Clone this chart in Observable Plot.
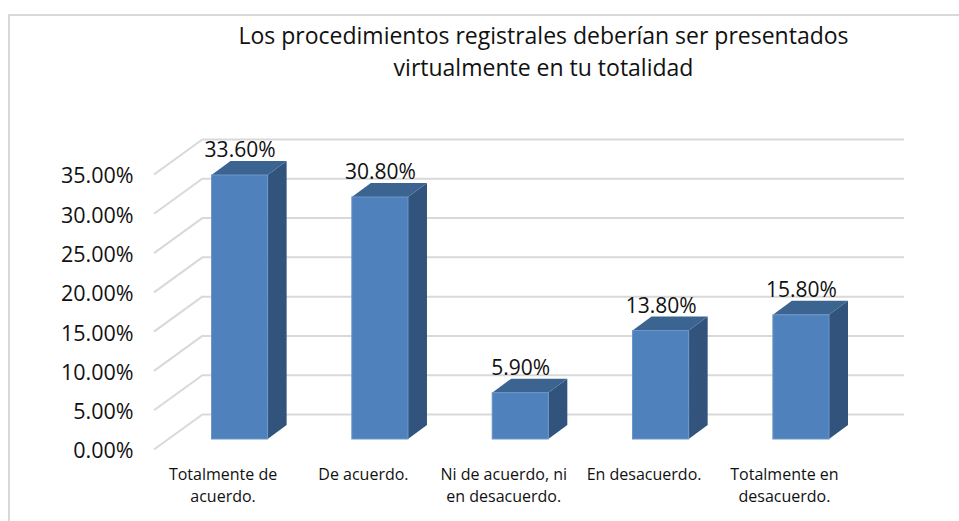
<!DOCTYPE html>
<html><head><meta charset="utf-8">
<script src="https://cdn.jsdelivr.net/npm/d3@7"></script>
<script src="https://cdn.jsdelivr.net/npm/@observablehq/plot@0.6"></script>
<style>
html,body{margin:0;padding:0;background:#fff;width:959px;height:521px;overflow:hidden;font-family:"Open Sans",sans-serif}
#frame{position:absolute;left:8px;top:14px;width:960px;height:520px;border:2px solid #D9D9D9;box-sizing:border-box;pointer-events:none}
#title{height:100px;box-sizing:border-box;padding-top:19px;padding-left:128px;width:959px;text-align:center;font-size:23px;line-height:32px;color:#111;white-space:nowrap}
svg{display:block;background:none}
</style></head><body>
<div id="frame"></div>
<div id="title">Los procedimientos registrales deberían ser presentados<br>virtualmente en tu totalidad</div>
<div id="chart"></div>
<script>
const categories = ["Totalmente de\nacuerdo.","De acuerdo.","Ni de acuerdo, ni\nen desacuerdo.","En desacuerdo.","Totalmente en\ndesacuerdo."];
const values = [33.6,30.8,5.9,13.8,15.8];
const valueLabels = ["33.60%","30.80%","5.90%","13.80%","15.80%"];
const yTicks = [0,5,10,15,20,25,30,35];
const data = categories.map((c,i)=>({c,v:values[i],l:valueLabels[i]}));

const sideDX = 19, sideDY = -14;
function polys(g, pts, fill){
  g.append("polygon").attr("points",pts.map(p=>p.join(",")).join(" ")).attr("fill",fill);
}
function bar3d(index, scales, vals){
  const g = d3.create("svg:g");
  const bw = scales.x.bandwidth();
  for (const i of index){
    const x0 = vals.x[i], x1 = x0+bw, t = vals.y2[i], b = vals.y1[i];
    polys(g,[[x1,t],[x1+sideDX,t+sideDY],[x1+sideDX,b+sideDY],[x1,b]],"#31537C");
    polys(g,[[x0,t],[x0+sideDX,t+sideDY],[x1+sideDX,t+sideDY],[x1,t]],"#3C6490");
  }
  return g.node();
}
function floorDiagonals(index, scales, vals, dims){
  const g = d3.create("svg:g").attr("stroke","#D9D9D9").attr("stroke-width",2).attr("fill","none");
  for (const i of index){
    const y = vals.y[i];
    g.append("line").attr("x1",dims.marginLeft-57.5).attr("y1",y+10.5).attr("x2",dims.marginLeft-8.5).attr("y2",y-25);
  }
  return g.node();
}

const chart = Plot.plot({
  width:959, height:421,
  marginLeft:211.5, marginRight:130, marginTop:64, marginBottom:82,
  style:{fontFamily:"'Open Sans',sans-serif",background:"transparent",overflow:"visible"},
  x:{domain:categories,paddingInner:0.6,paddingOuter:0,round:false,label:null},
  y:{domain:[0,35],label:null},
  marks:[
    Plot.ruleY(yTicks,{stroke:"#D9D9D9",strokeWidth:2,dy:-25,insetLeft:-8.5,insetRight:-75}),
    Plot.ruleY(yTicks,{render:floorDiagonals}),
    Plot.axisY({ticks:yTicks,tickSize:0,tickPadding:78.5,dy:12,fontSize:21.5,fill:"#111",
      tickFormat:d=>d.toFixed(2)+"%",label:null}),
    Plot.axisX({tickSize:0,tickPadding:25,dx:-17,fontSize:16,fill:"#111",lineHeight:1.375,label:null,
      tickFormat:d=>d,lineAnchor:"top"}),
    Plot.barY(data,{x:"c",y:"v",render:bar3d}),
    Plot.barY(data,{x:"c",y:"v",fill:"#4F81BD",stroke:"#6D96C8",strokeWidth:1}),
    Plot.text(data,{x:"c",y:"v",text:"l",dy:-25,fontSize:21,fill:"#111"})
  ]
});
document.getElementById("chart").appendChild(chart);
</script>
</body></html>
